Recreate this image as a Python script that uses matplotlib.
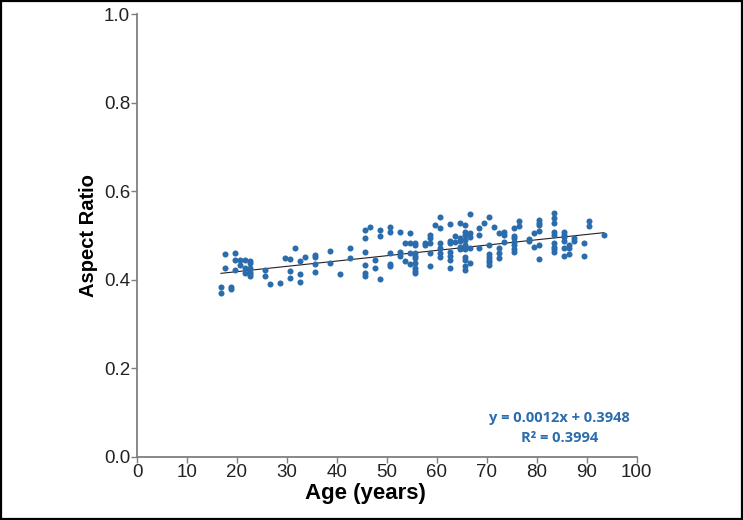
import numpy as np
import matplotlib
matplotlib.use("Agg")
import matplotlib.pyplot as plt
from matplotlib.patches import Rectangle

plt.rcParams["font.family"] = ["Liberation Sans", "DejaVu Sans"]

# ages (years) and aspect ratio, one entry per dot
age_years = [
    16.8, 16.8, 17.7, 17.7, 18.8, 18.8, 19.7, 19.7, 19.7, 20.7, 20.7,
    21.7, 21.7, 21.7, 22.7, 22.7, 22.7, 22.7, 22.7, 22.7,
    25.7, 25.7, 26.7, 28.7, 29.7, 30.7, 30.7, 30.7, 31.7, 32.7, 32.7, 32.7,
    33.7, 35.7, 35.7, 35.7, 35.7, 38.7, 38.7, 40.6, 42.7, 42.7,
    45.6, 45.6, 45.6, 45.6, 45.6, 45.6, 46.6, 47.6, 47.6, 48.6, 48.6, 48.6,
    50.6, 50.6, 50.6, 50.6, 50.6, 52.6, 52.6, 52.6, 53.6, 53.6,
    54.6, 54.6, 54.6, 54.6,
    55.6, 55.6, 55.6, 55.6, 55.6, 55.6, 55.6, 55.6, 55.6,
    57.6, 57.6, 58.6, 58.6, 58.6, 58.6, 58.6, 59.6,
    60.6, 60.6, 60.6, 60.6, 60.6, 60.6,
    62.6, 62.6, 62.6, 62.6, 62.6, 62.6, 62.6, 63.6, 63.6,
    64.6, 64.6, 64.6, 64.6, 64.6,
    65.6, 65.6, 65.6, 65.6, 65.6, 65.6, 65.6, 65.6, 65.6, 65.6,
    66.6, 66.6, 66.6, 66.6, 66.6, 68.5, 68.5, 68.5, 69.5,
    70.5, 70.5, 70.5, 70.5, 70.5, 70.5, 70.5, 71.5,
    72.5, 72.5, 72.5, 72.5, 73.5, 73.5, 73.5,
    75.5, 75.5, 75.5, 75.5, 75.5, 75.5, 75.5, 76.5, 76.5,
    78.5, 78.5, 79.5, 79.5,
    80.5, 80.5, 80.5, 80.5, 80.5, 80.5,
    83.5, 83.5, 83.5, 83.5, 83.5, 83.5, 83.5, 83.5, 83.5,
    85.5, 85.5, 85.5, 85.5, 85.5, 85.5, 86.5, 86.5, 86.5,
    87.5, 87.5, 89.5, 89.5, 90.5, 90.5, 93.4,
]
aspect_ratio = [
    0.383, 0.370, 0.458, 0.428, 0.385, 0.380, 0.462, 0.444, 0.423, 0.444, 0.434,
    0.444, 0.428, 0.416, 0.443, 0.438, 0.426, 0.419, 0.414, 0.409,
    0.423, 0.410, 0.390, 0.393, 0.450, 0.448, 0.420, 0.405, 0.473, 0.443, 0.414, 0.395,
    0.453, 0.456, 0.452, 0.437, 0.419, 0.466, 0.439, 0.414, 0.473, 0.449,
    0.513, 0.494, 0.463, 0.434, 0.415, 0.410, 0.520, 0.445, 0.426, 0.513, 0.500, 0.402,
    0.519, 0.508, 0.460, 0.436, 0.432, 0.508, 0.464, 0.455, 0.483, 0.443,
    0.506, 0.483, 0.461, 0.435,
    0.483, 0.478, 0.460, 0.455, 0.449, 0.438, 0.426, 0.420, 0.415,
    0.483, 0.478, 0.502, 0.494, 0.483, 0.462, 0.432, 0.524,
    0.543, 0.518, 0.483, 0.473, 0.462, 0.453,
    0.526, 0.487, 0.483, 0.463, 0.455, 0.444, 0.426, 0.500, 0.485,
    0.528, 0.494, 0.489, 0.475, 0.469,
    0.524, 0.508, 0.502, 0.490, 0.479, 0.469, 0.451, 0.444, 0.432, 0.423,
    0.548, 0.506, 0.498, 0.473, 0.438, 0.518, 0.502, 0.472, 0.528,
    0.543, 0.478, 0.458, 0.451, 0.445, 0.440, 0.434, 0.520,
    0.506, 0.472, 0.460, 0.449, 0.508, 0.502, 0.485,
    0.518, 0.500, 0.494, 0.485, 0.478, 0.469, 0.463, 0.533, 0.522,
    0.492, 0.487, 0.506, 0.475,
    0.536, 0.529, 0.524, 0.511, 0.478, 0.447,
    0.551, 0.539, 0.528, 0.508, 0.502, 0.483, 0.475, 0.469, 0.464,
    0.508, 0.502, 0.496, 0.488, 0.473, 0.455, 0.479, 0.472, 0.458,
    0.494, 0.488, 0.483, 0.455, 0.533, 0.522, 0.502,
]

# trendline as reported on the chart
slope, intercept = 0.0012, 0.3948
r_squared = 0.3994

x_ticks = [0, 10, 20, 30, 40, 50, 60, 70, 80, 90, 100]
y_ticks = [0.0, 0.2, 0.4, 0.6, 0.8, 1.0]

DOT = "#2B6CAD"
AXIS_GREY = "#7f7f7f"

fig = plt.figure(figsize=(7.43, 5.2), dpi=100)
ax = fig.add_axes([0.1844, 0.1212, 0.6725, 0.851])

ax.scatter(age_years, aspect_ratio, s=19, color=DOT, linewidths=0, zorder=3)

xs = np.array([min(age_years), max(age_years)])
ax.plot(xs, slope * xs + intercept, color="#222222", lw=0.8, zorder=2)

ax.set_xlim(0, 100)
ax.set_ylim(0, 1.0)
ax.set_xticks(x_ticks)
ax.set_yticks(y_ticks)
ax.set_yticklabels([f"{v:.1f}" for v in y_ticks])

for side in ("top", "right"):
    ax.spines[side].set_visible(False)
for side in ("left", "bottom"):
    ax.spines[side].set_color(AXIS_GREY)
    ax.spines[side].set_linewidth(1.3)
ax.tick_params(direction="out", length=4, width=1, color=AXIS_GREY,
               labelsize=13.5, labelcolor="#222222", pad=1)

ax.set_xlabel("Age (years)", fontsize=16, fontweight="bold", labelpad=3)
ax.xaxis.set_label_coords(0.458, -0.058)
ax.set_ylabel("Aspect Ratio", fontsize=14.5, fontweight="bold", labelpad=4)

ax.text(0.846, 0.088, f"y = {slope}x + {intercept}", transform=ax.transAxes,
        ha="center", va="center", fontsize=10.5, fontweight="bold",
        color=DOT, family=["Open Sans", "DejaVu Sans"])
ax.text(0.846, 0.043, f"R\u00b2 = {r_squared}", transform=ax.transAxes,
        ha="center", va="center", fontsize=10.5, fontweight="bold",
        color=DOT, family=["Open Sans", "DejaVu Sans"])

# thin black frame round the whole figure
fig.patches.append(Rectangle((0.001, 0.002), 0.997, 0.996, transform=fig.transFigure,
                             fill=False, edgecolor="black", linewidth=1.6))

fig.savefig("out.png", dpi=100)
